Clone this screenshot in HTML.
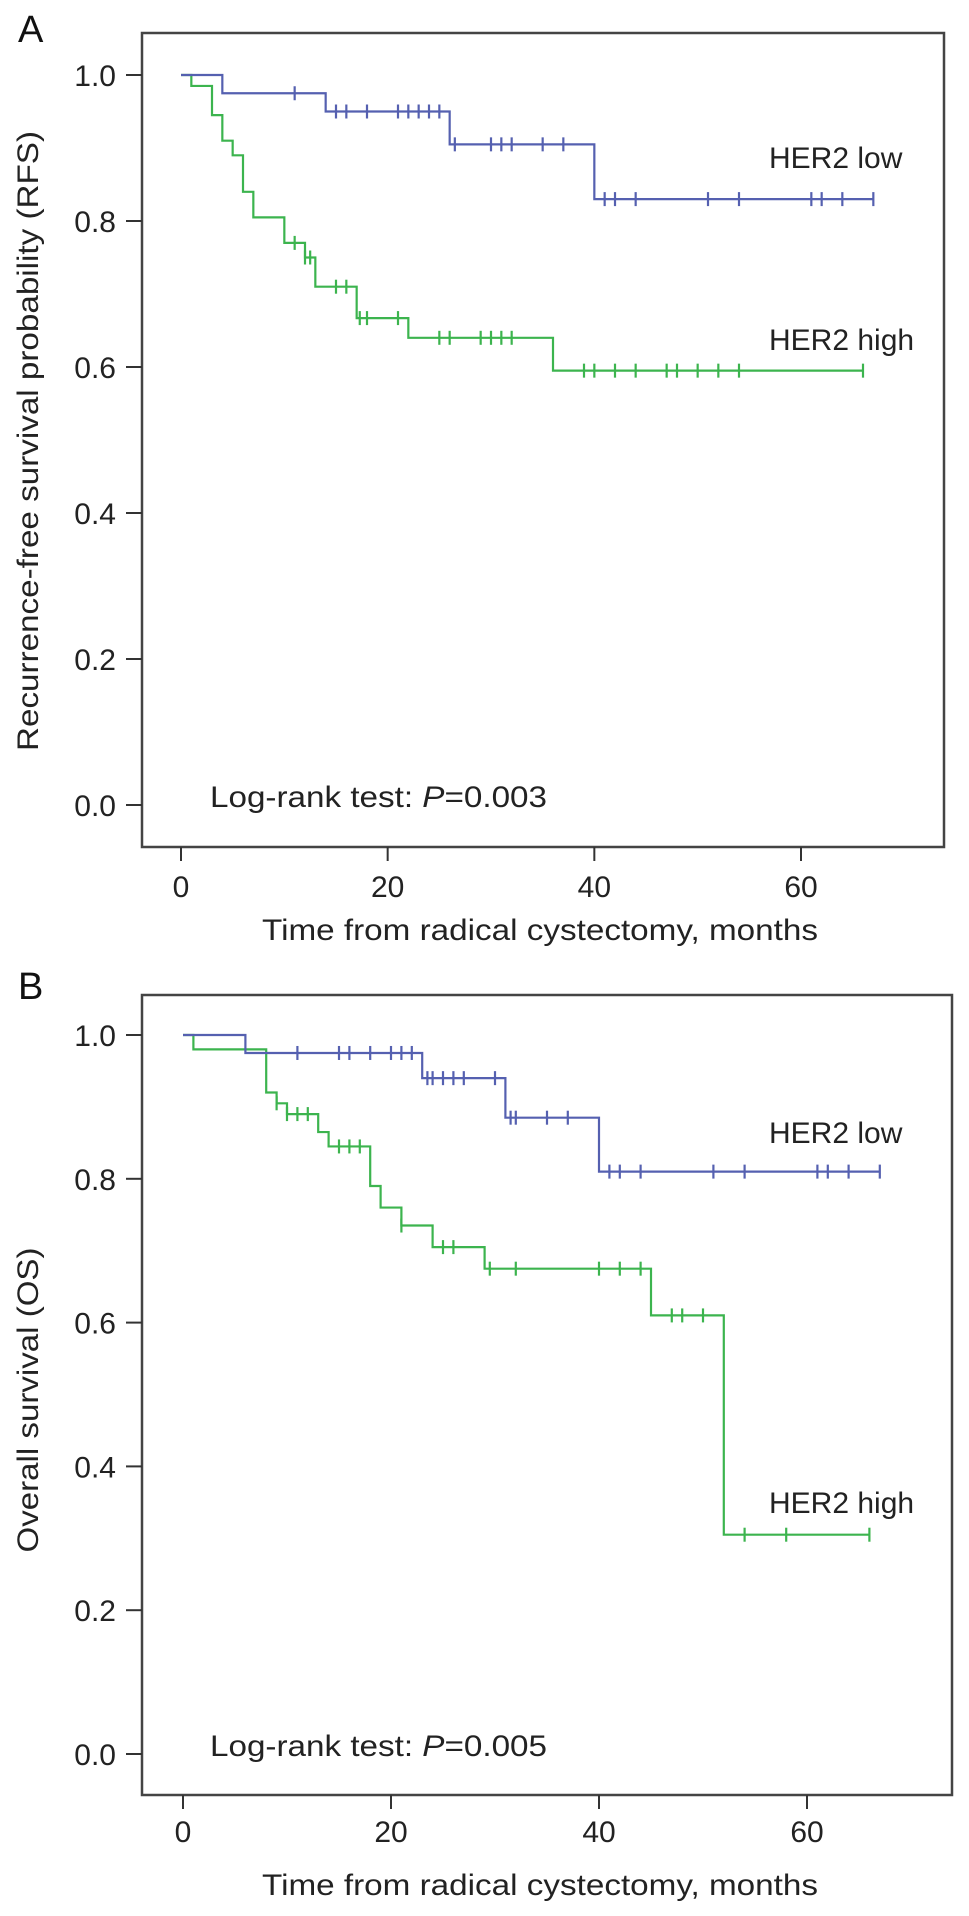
<!DOCTYPE html>
<html><head><meta charset="utf-8"><style>
html,body{margin:0;padding:0;background:#fff}
svg{display:block;font-family:"Liberation Sans",Arial,sans-serif}
</style></head><body>
<svg id="chart" width="969" height="1916" viewBox="0 0 969 1916"></svg>
<script>
// Panel A (RFS) data
const aLowTimes=[0,4,14,26,40];
const aLowSurv=[1.0,0.975,0.95,0.905,0.83];
const aLowEnd=67;
const aLowCens=[11,15,16,18,21,22,23,24,25,26.5,30,31,32,35,37,41,42,44,51,54,61,62,64,67];
const aHighTimes=[0,1,3,4,5,6,7,10,12,13,17,22,36];
const aHighSurv=[1.0,0.985,0.945,0.91,0.89,0.84,0.805,0.77,0.75,0.71,0.667,0.64,0.595];
const aHighEnd=66;
const aHighCens=[11,12,12.5,15,16,17.3,18,21,25,26,29,30,31,32,39,40,42,44,47,48,50,52,54,66];
// Panel B (OS) data
const bLowTimes=[0,6,23,31,40];
const bLowSurv=[1.0,0.975,0.94,0.885,0.81];
const bLowEnd=67;
const bLowCens=[11,15,16,18,20,21,22,23.5,24,25,26,27,30,31.5,32,35,37,41,42,44,51,54,61,62,64,67];
const bHighTimes=[0,1,8,9,10,13,14,18,19,21,24,29,45,52];
const bHighSurv=[1.0,0.98,0.92,0.905,0.89,0.865,0.845,0.79,0.76,0.735,0.705,0.675,0.61,0.305];
const bHighEnd=66;
const bHighCens=[9,10,11,12,15,16,17,21,25,26,29.5,32,40,42,44,47,48,50,54,58,66];
const yTicks=[0,0.2,0.4,0.6,0.8,1.0];
const xTicks=[0,20,40,60];

const svg=document.getElementById('chart');
const NS='http://www.w3.org/2000/svg';
function mk(tag,attrs,parent){const e=document.createElementNS(NS,tag);for(const k in attrs)e.setAttribute(k,attrs[k]);(parent||svg).appendChild(e);return e;}

function panel(cfg){
  const g=mk('g',{});
  
  
  const xs=t=>cfg.x0+(cfg.x60-cfg.x0)*t/60;
  const ys=v=>cfg.y0+(cfg.y1-cfg.y0)*v;
  const lbl=mk('text',{x:18,y:cfg.letterY,'font-size':38,fill:'#111'},g);lbl.textContent=cfg.letter;
  
  const box=mk('rect',{x:cfg.bl,y:cfg.bt,width:cfg.br-cfg.bl,height:cfg.bb-cfg.bt,fill:'none',stroke:'#444','stroke-width':2.5},g);
  
  yTicks.forEach(v=>{
    const y=ys(v);
    const tk=mk('line',{x1:cfg.bl-16,x2:cfg.bl,y1:y,y2:y,stroke:'#333','stroke-width':2},g);
    
    const t=mk('text',{x:116,y:y+11,'font-size':30,'text-anchor':'end',fill:'#222'},g);t.textContent=v.toFixed(1);
    
  });
  xTicks.forEach(v=>{
    const x=xs(v);
    const tk=mk('line',{x1:x,x2:x,y1:cfg.bb,y2:cfg.bb+14,stroke:'#333','stroke-width':2},g);
    
    const t=mk('text',{x:x,y:cfg.xlY,'font-size':30,'text-anchor':'middle',fill:'#222'},g);t.textContent=v;
    
  });
  const xt=mk('text',{x:540,y:cfg.xtY,'font-size':30,'text-anchor':'middle',fill:'#222',textLength:556,lengthAdjust:'spacingAndGlyphs'},g);
  xt.textContent='Time from radical cystectomy, months';
  
  const yt=mk('text',{x:0,y:0,'font-size':30,'text-anchor':'middle',fill:'#222',transform:`translate(38,${cfg.ytC}) rotate(-90)`,textLength:cfg.ytLen,lengthAdjust:'spacingAndGlyphs'},g);
  yt.textContent=cfg.ytitle;
  
  const pt=mk('text',{x:210,y:ys(0)+2,'font-size':30,fill:'#222',textLength:337,lengthAdjust:'spacingAndGlyphs'},g);
  pt.innerHTML='Log-rank test: <tspan font-style="italic">P</tspan>=0.'+cfg.p;
  
  function curve(times,surv,end,cens,color,name){
    let d=`M${xs(times[0])},${ys(surv[0])}`;
    for(let i=1;i<times.length;i++){d+=` H${xs(times[i])} V${ys(surv[i])}`;}
    d+=` H${xs(end)}`;
    const p=mk('path',{d:d,fill:'none',stroke:color,'stroke-width':2.2},g);
    
    cens.forEach(c=>{
      let s=surv[0];for(let i=0;i<times.length;i++){if(times[i]<=c)s=surv[i];}
      const m=mk('line',{x1:xs(c),x2:xs(c),y1:ys(s)-7,y2:ys(s)+7,stroke:color,'stroke-width':2.2},g);
      
    });
  }
  curve(cfg.hiT,cfg.hiS,cfg.hiE,cfg.hiC,'#3cb44e','her2-high');
  curve(cfg.loT,cfg.loS,cfg.loE,cfg.loC,'#5560b0','her2-low');
  const l1=mk('text',{x:769,y:cfg.lowLblY,'font-size':30,fill:'#222'},g);l1.textContent='HER2 low';
  
  const l2=mk('text',{x:769,y:cfg.highLblY,'font-size':30,fill:'#222'},g);l2.textContent='HER2 high';
  
}
panel({id:'a',letter:'A',letterY:42,bl:142,br:944,bt:33,bb:847,x0:181,x60:801,y0:805,y1:75,
  xlY:897,xtY:940,ytC:441,ytLen:620,ytitle:'Recurrence-free survival probability (RFS)',p:'003',
  lowLblY:168,highLblY:350,
  loT:aLowTimes,loS:aLowSurv,loE:aLowEnd,loC:aLowCens,hiT:aHighTimes,hiS:aHighSurv,hiE:aHighEnd,hiC:aHighCens});
panel({id:'b',letter:'B',letterY:999,bl:142,br:952,bt:995,bb:1795,x0:183,x60:807,y0:1754,y1:1035,
  xlY:1842,xtY:1895,ytC:1400,ytLen:305,ytitle:'Overall survival (OS)',p:'005',
  lowLblY:1143,highLblY:1513,
  loT:bLowTimes,loS:bLowSurv,loE:bLowEnd,loC:bLowCens,hiT:bHighTimes,hiS:bHighSurv,hiE:bHighEnd,hiC:bHighCens});
</script>
</body></html>
